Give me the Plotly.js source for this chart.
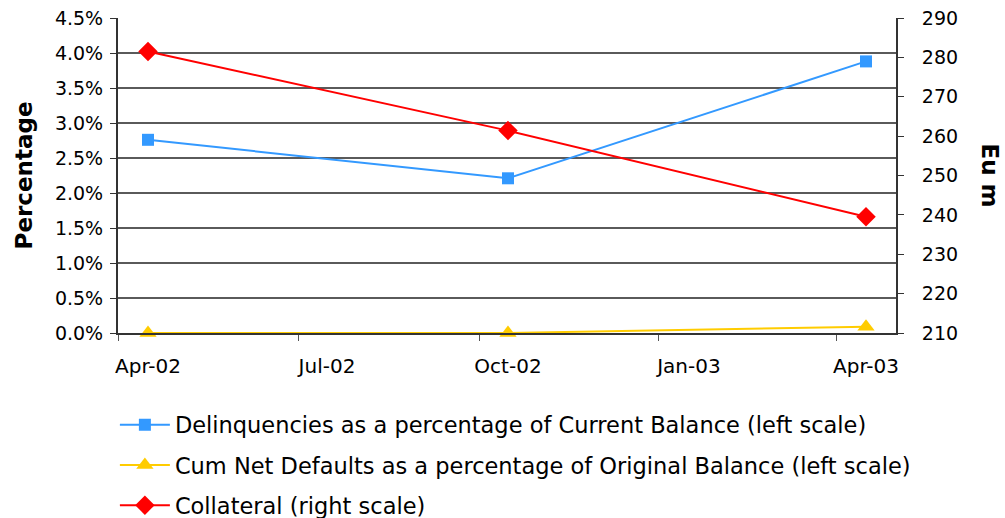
<!DOCTYPE html>
<html>
<head>
<meta charset="utf-8">
<script src="https://cdn.plot.ly/plotly-3.0.1.min.js"></script>
<style>html,body{margin:0;padding:0;background:#fff;}#chart{width:1005px;height:518px;}</style>
</head>
<body>
<div id="chart"></div>
<script>
const dates = ["2002-04-01", "2002-10-01", "2003-04-01"];
const delinquencies = [0.0276, 0.0221, 0.0388];
const cumNetDefaults = [0.0, 0.0, 0.0009];
const collateral = [281.5, 261.4, 239.5];
const seriesNames = [
  "Delinquencies as a percentage of Current Balance (left scale)",
  "Cum Net Defaults as a percentage of Original Balance (left scale)",
  "Collateral (right scale)"
];
const xTickVals = ["2002-04-01", "2002-07-01", "2002-10-01", "2003-01-01", "2003-04-01"];

const font = "DejaVu Sans, Verdana, sans-serif";

const traces = [
  {x: dates, y: delinquencies, name: seriesNames[0], type: "scatter", mode: "lines+markers",
   line: {color: "#3399FF", width: 2}, marker: {symbol: "square", size: 12, color: "#3399FF"},
   legendgroup: "a", yaxis: "y", cliponaxis: false},
  {x: dates, y: cumNetDefaults, name: seriesNames[1], type: "scatter", mode: "lines+markers",
   line: {color: "#FFCC00", width: 2}, marker: {symbol: "triangle-up", size: 15, color: "#FFCC00"},
   legendgroup: "b", yaxis: "y", cliponaxis: false},
  {x: dates, y: collateral, name: seriesNames[2], type: "scatter", mode: "lines+markers",
   line: {color: "#FF0000", width: 2}, marker: {symbol: "diamond", size: 15, color: "#FF0000"},
   legendgroup: "c", yaxis: "y2", cliponaxis: false}
];

const layout = {
  width: 1005, height: 518,
  margin: {l: 118, r: 109, t: 18, b: 185, autoexpand: false},
  paper_bgcolor: "#fff", plot_bgcolor: "#fff",
  font: {family: font, size: 19, color: "#000"},
  showlegend: true,
  legend: {orientation: "v", x: -0.004, xanchor: "left", y: -0.224, yanchor: "top",
           itemwidth: 50,
           font: {family: font, size: 22.5, color: "#000"}, traceorder: "grouped",
           tracegroupgap: 8, bgcolor: "rgba(0,0,0,0)"},
  xaxis: {
    type: "date",
    range: ["2002-03-16 18:00", "2003-04-16 06:00"],
    tickvals: xTickVals, tickformat: "%b-%y",
    ticks: "", showgrid: false, zeroline: false,
    showline: true, linecolor: "#333", linewidth: 2,
    ticklabelstandoff: 14,
    tickfont: {family: font, size: 20, color: "#000"},
    minor: {tick0: "2002-03-16 18:00", dtick: "M3", ticks: "outside", ticklen: 6, tickcolor: "#555", showgrid: false},
    fixedrange: true
  },
  yaxis: {
    range: [0, 0.045], dtick: 0.005, tickformat: ".1%",
    showgrid: true, gridcolor: "#5a5a5a", gridwidth: 1.3,
    zeroline: false, showline: true, linecolor: "#333", linewidth: 2,
    ticks: "outside", ticklen: 6, tickcolor: "#333",
    ticklabelstandoff: 3,
    tickfont: {family: font, size: 19, color: "#000"},
    title: {text: "<b>Percentage</b>", font: {family: font, size: 23, color: "#000"}, standoff: 16}
  },
  yaxis2: {
    overlaying: "y", side: "right",
    range: [210, 290], dtick: 10,
    showgrid: false, zeroline: false, showline: true, linecolor: "#333", linewidth: 2,
    ticks: "outside", ticklen: 6, tickcolor: "#333",
    ticklabelstandoff: 14,
    tickfont: {family: font, size: 19, color: "#000"}
  },
  annotations: [
    {text: "<b>Eu m</b>", textangle: 90, xref: "paper", yref: "paper",
     x: 1.0 + (990 - 896) / (1005 - 118 - 109), y: 0.5, xanchor: "center", yanchor: "middle",
     showarrow: false, font: {family: font, size: 23, color: "#000"}}
  ]
};

Plotly.newPlot("chart", traces, layout, {staticPlot: true, displayModeBar: false});
</script>
</body>
</html>
